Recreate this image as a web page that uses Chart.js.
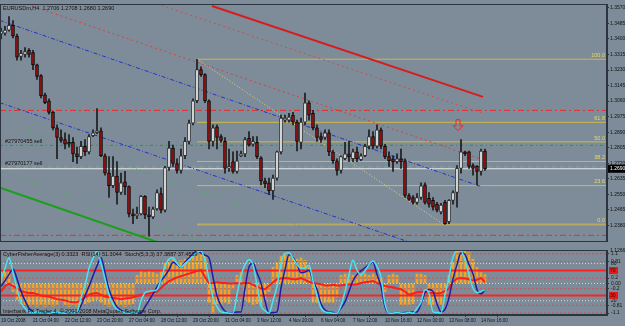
<!DOCTYPE html>
<html>
<head>
<meta charset="utf-8">
<script src="https://cdn.jsdelivr.net/npm/chart.js@4"></script>
<style>
html,body{margin:0;padding:0;background:#7d8c98;}
#wrap{position:relative;width:625px;height:326px;overflow:hidden;background:#7d8c98;}
#main{position:absolute;left:0;top:0;}
#ind{position:absolute;left:0;top:245px;}
</style>
</head>
<body>
<div id="wrap">
<canvas id="main" width="625" height="245"></canvas>
<canvas id="ind" width="625" height="81"></canvas>
</div>
<script>
// EURUSDm H4 candles, one entry per bar
var opens = [1.3427,1.3432,1.3448,1.3474,1.3416,1.3305,1.3315,1.3337,1.3326,1.3258,
  1.3200,1.3094,1.3062,1.2998,1.2914,1.2861,1.2850,1.2834,1.2834,1.2771,
  1.2756,1.2813,1.2782,1.2871,1.2887,1.2898,1.2761,1.2666,1.2597,1.2650,
  1.2560,1.2618,1.2592,1.2443,1.2432,1.2443,1.2539,1.2438,1.2427,1.2470,
  1.2554,1.2464,1.2697,1.2803,1.2719,1.2681,1.2761,1.2840,1.2940,1.3062,
  1.3232,1.3205,1.3062,1.2840,1.2919,1.2866,1.2840,1.2692,1.2729,1.2676,
  1.2761,1.2771,1.2856,1.2824,1.2834,1.2750,1.2623,1.2613,1.2570,1.2639,
  1.2782,1.2956,1.2956,1.2983,1.2945,1.2834,1.2945,1.3051,1.2993,1.2914,
  1.2866,1.2861,1.2887,1.2782,1.2734,1.2681,1.2745,1.2771,1.2745,1.2782,
  1.2740,1.2761,1.2813,1.2866,1.2813,1.2903,1.2813,1.2756,1.2745,1.2729,
  1.2745,1.2734,1.2544,1.2533,1.2506,1.2533,1.2602,1.2528,1.2517,1.2497,
  1.2454,1.2506,1.2401,1.2517,1.2560,1.2692,1.2782,1.2782,1.2708,1.2703,
  1.2676,1.2787];
var highs = [1.3459,1.3469,1.3522,1.3501,1.3427,1.3337,1.3353,1.3347,1.3337,1.3263,
  1.3205,1.3104,1.3072,1.3004,1.2930,1.2903,1.2887,1.2877,1.2861,1.2808,
  1.2840,1.2850,1.2877,1.2903,1.3019,1.2914,1.2771,1.2756,1.2756,1.2729,
  1.2666,1.2676,1.2597,1.2470,1.2480,1.2544,1.2544,1.2480,1.2480,1.2575,
  1.2586,1.2703,1.2840,1.2819,1.2745,1.2798,1.2861,1.2956,1.3072,1.3289,
  1.3248,1.3211,1.3067,1.2930,1.2930,1.2877,1.2861,1.2798,1.2782,1.2787,
  1.2787,1.2861,1.2893,1.2866,1.2866,1.2756,1.2639,1.2639,1.2655,1.2787,
  1.2983,1.2983,1.2993,1.2998,1.2956,1.2967,1.3104,1.3062,1.3009,1.2930,
  1.2887,1.2903,1.2903,1.2792,1.2745,1.2761,1.2834,1.2840,1.2798,1.2808,
  1.2771,1.2824,1.2903,1.2893,1.2930,1.2914,1.2824,1.2782,1.2761,1.2771,
  1.2798,1.2745,1.2554,1.2544,1.2554,1.2613,1.2613,1.2560,1.2533,1.2506,
  1.2501,1.2517,1.2522,1.2570,1.2708,1.2850,1.2787,1.2787,1.2719,1.2708,
  1.2798,1.2798];
var lows = [1.3400,1.3421,1.3443,1.3406,1.3284,1.3284,1.3300,1.3300,1.3232,1.3179,
  1.3078,1.3046,1.2988,1.2903,1.2745,1.2834,1.2798,1.2808,1.2729,1.2719,
  1.2745,1.2761,1.2771,1.2866,1.2882,1.2756,1.2655,1.2533,1.2586,1.2497,
  1.2550,1.2549,1.2427,1.2390,1.2417,1.2438,1.2417,1.2321,1.2417,1.2464,
  1.2449,1.2454,1.2681,1.2703,1.2666,1.2666,1.2745,1.2824,1.2930,1.3051,
  1.3195,1.3051,1.2798,1.2813,1.2798,1.2834,1.2666,1.2676,1.2666,1.2666,
  1.2756,1.2756,1.2813,1.2813,1.2745,1.2602,1.2586,1.2549,1.2522,1.2628,
  1.2771,1.2945,1.2945,1.2930,1.2787,1.2798,1.2930,1.2956,1.2903,1.2840,
  1.2834,1.2850,1.2761,1.2719,1.2655,1.2666,1.2740,1.2729,1.2729,1.2729,
  1.2734,1.2756,1.2798,1.2798,1.2803,1.2798,1.2745,1.2703,1.2676,1.2719,
  1.2692,1.2533,1.2517,1.2497,1.2497,1.2522,1.2497,1.2480,1.2464,1.2454,
  1.2443,1.2385,1.2390,1.2497,1.2480,1.2666,1.2761,1.2692,1.2655,1.2602,
  1.2655,1.2681];
var closes = [1.3443,1.3448,1.3474,1.3416,1.3300,1.3321,1.3331,1.3315,1.3258,1.3195,
  1.3089,1.3051,1.2998,1.2914,1.2861,1.2845,1.2824,1.2824,1.2771,1.2756,
  1.2813,1.2782,1.2866,1.2887,1.2898,1.2761,1.2666,1.2597,1.2650,1.2560,
  1.2613,1.2592,1.2443,1.2432,1.2443,1.2539,1.2438,1.2427,1.2470,1.2560,
  1.2464,1.2697,1.2803,1.2719,1.2681,1.2761,1.2840,1.2940,1.3062,1.3232,
  1.3205,1.3062,1.2840,1.2914,1.2861,1.2845,1.2692,1.2703,1.2676,1.2734,
  1.2771,1.2850,1.2819,1.2840,1.2756,1.2623,1.2607,1.2570,1.2639,1.2782,
  1.2967,1.2967,1.2972,1.2945,1.2840,1.2945,1.3051,1.2983,1.2914,1.2861,
  1.2850,1.2887,1.2782,1.2734,1.2681,1.2756,1.2771,1.2756,1.2782,1.2745,
  1.2761,1.2813,1.2866,1.2813,1.2903,1.2813,1.2756,1.2734,1.2729,1.2745,
  1.2729,1.2544,1.2522,1.2506,1.2533,1.2597,1.2506,1.2497,1.2480,1.2464,
  1.2491,1.2390,1.2517,1.2560,1.2692,1.2782,1.2771,1.2703,1.2692,1.2676,
  1.2787,1.2690];

// indicator window
var stochMain = [54,72,89,65,40,17,8,2,1,2,1,2,0,1,2,1,0,2,1,2,
  25,45,72,88,100,80,55,30,14,6,3,1,0,1,0,20,33,35,36,38,
  55,75,87,89,80,74,80,85,92,98,100,84,55,25,10,2,1,0,0,30,
  60,78,86,78,45,12,4,0,20,43,80,96,97,88,78,72,72,77,52,28,
  8,2,1,0,0,12,35,62,85,69,62,68,78,84,75,58,15,0,0,1,
  0,0,1,0,8,17,38,32,2,1,0,30,58,90,100,100,85,62,40,33,
  35,37.39];
var stochSignal = [43,52,62,71,55,35,20,8,2,1,2,1,1,0,1,2,1,1,2,2,
  12,28,43,60,76,89,65,38,22,10,5,2,1,0,0,0,10,20,31,42,
  52,60,70,82,78,74,82,89,95,100,97,93,89,58,28,12,3,0,1,2,
  2,40,74,80,65,48,20,0,1,2,40,70,94,90,78,65,66,69,52,38,
  15,5,2,1,0,8,18,35,52,62,68,73,78,82,62,43,10,0,0,1,
  0,1,1,2,2,15,33,38,35,15,2,6,25,55,78,97,94,78,63,38,
  31,37.46];
var rsi = [36,45,49,45,41,37,35,34,34,32,30,29,28,26,24,23,22,20,19,19,
  23,27,31,33,34,31,28,27,26,25,24,25,26,27,29,31,32,33,35,36,
  42,48,53,56,59,61,63,65,67,69,71,60,50,50,51,50,50,49,49,50,
  49,50,50,47,44,41,40,45,51,56,57,58,57,56,56,58,55,52,50,49,
  48,46,46,47,46,46,47,48,47,48,50,51,52,53,50,47,45,44,43,41,
  40,36,31,33,35,36,35,34,34,33,34,37,41,52,57,58,57,56,54,55,
  58,51.3];
var fisher = [0.5,0.5,0.45,-0.3,-0.6,-0.75,-0.8,-0.85,-0.8,-0.85,
  -0.8,-0.85,-0.8,-0.85,-0.8,-0.65,-0.8,-0.85,-0.8,-0.85,
  -0.8,-0.75,-0.7,-0.65,-0.6,-0.7,-0.8,-0.85,-0.8,-0.85,
  -0.8,-0.85,-0.8,-0.75,0.3,0.45,0.4,0.45,0.4,0.35,
  0.5,0.75,0.85,0.9,0.8,0.85,0.9,1.0,1.05,1.1,
  1.1,1.05,-0.7,-1.15,-0.75,-0.8,-0.7,-0.75,-0.2,0.3,
  0.4,-0.6,-0.7,-0.8,-0.75,-0.8,-0.6,-0.3,0.6,0.8,
  1.0,1.1,1.05,1.0,0.9,0.95,0.85,0.6,-0.7,-0.7,
  -0.75,-0.7,-0.7,-0.7,-0.5,0.3,0.35,0.35,0.3,0.35,
  0.3,0.35,0.3,0.35,0.3,0.2,-0.3,0.3,0.35,0.3,
  -0.8,-0.8,-0.8,-0.75,0.35,0.35,0.3,-0.8,-0.8,-0.75,
  -0.8,-0.5,0.3,0.8,1.2,1.2,1.2,1.15,0.9,0.6,
  0.4,0.33];

// axes
var priceTicks = [1.3570,1.3485,1.3400,1.3315,1.3230,1.3145,1.3060,1.2975,1.2890,1.2805,1.2720,1.2635,1.2550,1.2465,1.2380];
var timeTickBars = [0,8,16,24,32,40,48,56,64,72,80,88,96,104,112,120];
var timeTickLabels = ["19 Oct 2008","21 Oct 04:00","22 Oct 12:00","23 Oct 20:00","27 Oct 04:00","28 Oct 12:00",
  "29 Oct 20:00","31 Oct 04:00","3 Nov 12:00","4 Nov 20:00","6 Nov 04:00","7 Nov 12:00",
  "10 Nov 16:00","12 Nov 00:00","13 Nov 08:00","14 Nov 16:00"];
var fisherTicks = [1.1,0.81,0.2,0,-0.2,-0.81,-1.1];
var fisherTickLabels = ["1.1","0.81","0.2","0.00","-0.2","-0.81","-1.1"];

// objects on the chart (bar index, price)
var fibPrices = [1.3289,1.2944,1.2837,1.2730,1.2598,1.2385];
var fibNames = ["100.0","61.8","50.0","38.2","23.6","0.0"];
var fibStart = 49;
var fibTrend = [[49,1.3289],[110.75,1.2385]];
var redLevels = [1.3009,1.2326];
var orderPrices = [1.2818,1.2700];
var orderNames = ["#27970455 sell","#27970177 sell"];
var bid = 1.2690;
var trendRed = [[52.75,1.3580],[120.5,1.3083]];
var trendRedDotA = [[7.75,1.3580],[119.75,1.2745]];
var trendRedDotB = [[39,1.3591],[120.5,1.2993]];
var trendBlueUp = [[-0.25,1.3501],[120.25,1.2591]];
var trendBlueLow = [[-0.25,1.3051],[120.5,1.2152]];
var trendGreen = [[-0.25,1.2586],[40,1.2282]];
var trendGreenDotA = [[-0.25,1.2946],[100,1.2189]];
var trendGreenDotB = [[-0.25,1.2681],[50,1.2295]];
var arrowBar = 114.25, arrowPrice = 1.2898;

var xMin = -0.25, xMax = 151.5;
var small = "5.5px 'Liberation Sans', Arial, sans-serif";
var tiny = { size: 5, family: "'Liberation Sans', Arial" };

function seg(pts, color, width, dash, axis){
  var d = {type:'line', data: pts.map(function(p){return {x:p[0], y:p[1]};}),
    borderColor: color, borderWidth: width, borderDash: dash || [], pointRadius: 0,
    fill: false, tension: 0, order: 5};
  if (axis) d.yAxisID = axis;
  return d;
}
function hline(v, color, width, dash, from, axis){
  return seg([[from, v],[xMax, v]], color, width, dash, axis);
}

var bars = opens.map(function(o, i){ return i; });
var bodyFill = bars.map(function(i){ return closes[i] >= opens[i] ? '#f4f4f4' : '#a01010'; });
var bodyLine = bars.map(function(i){ return closes[i] >= opens[i] ? '#303030' : '#080808'; });

var mainSets = [
  {type:'bar', data: bars.map(function(i){ return {x:i, y:[opens[i], closes[i]]}; }),
    backgroundColor: bodyFill, borderColor: bodyLine, borderWidth: 1, borderSkipped: false,
    barThickness: 3, minBarLength: 1, grouped: false, order: 0},
  {type:'bar', data: bars.map(function(i){ return {x:i, y:[lows[i], highs[i]]}; }),
    backgroundColor: '#1c1c1c', barThickness: 1, grouped: false, order: 1},
  seg(trendRed, '#d81c1c', 2),
  seg(trendRedDotA, '#d84040', 1, [2,3]),
  seg(trendRedDotB, '#c85050', 1, [2,3]),
  seg(trendBlueUp, '#2430d0', 1, [4,2,1,2]),
  seg(trendBlueLow, '#2430d0', 1, [4,2,1,2]),
  seg(trendGreen, '#18a018', 2),
  seg(trendGreenDotA, '#40b050', 1, [1,3]),
  seg(trendGreenDotB, '#40b050', 1, [1,3]),
  seg(fibTrend, '#e0d878', 1, [1,2]),
  hline(redLevels[0], '#e03030', 1, [6,3,2,3], xMin),
  hline(redLevels[1], '#e03030', 1, [6,3,2,3], xMin),
  hline(orderPrices[0], '#10a040', 1, [3,3,1,3], xMin),
  hline(orderPrices[1], '#80a8a8', 1, [4,4], xMin),
  hline(bid, '#e8e8e8', 1, [], xMin)
];
fibPrices.forEach(function(p, k){
  mainSets.push(hline(p, k === 5 ? '#b8a860' : '#d0b848', k === 5 ? 2 : 1, [], fibStart));
});

var mainOverlay = {
  id: 'mainOverlay',
  afterDatasetsDraw: function(chart){
    var c = chart.ctx, a = chart.chartArea, y = chart.scales.y, x = chart.scales.x;
    c.save();
    c.font = small;
    c.textBaseline = 'bottom';
    c.textAlign = 'right';
    c.fillStyle = '#e8d870';
    fibPrices.forEach(function(p, k){ c.fillText(fibNames[k], a.right - 2, y.getPixelForValue(p) - 1); });
    c.textAlign = 'left';
    c.fillStyle = '#141414';
    orderPrices.forEach(function(p, k){ c.fillText(orderNames[k], a.left + 5, y.getPixelForValue(p) - 1); });
    c.textBaseline = 'top';
    c.fillText("EURUSDm,H4  1.2706 1.2708 1.2680 1.2690", a.left + 3, a.top + 2);
    // sell arrow
    var ax = x.getPixelForValue(arrowBar), ay = y.getPixelForValue(arrowPrice);
    c.strokeStyle = '#ff2020'; c.lineWidth = 1;
    c.beginPath();
    c.moveTo(ax, ay); c.lineTo(ax - 5, ay - 5); c.lineTo(ax - 2, ay - 5); c.lineTo(ax - 2, ay - 11);
    c.lineTo(ax + 2, ay - 11); c.lineTo(ax + 2, ay - 5); c.lineTo(ax + 5, ay - 5); c.closePath();
    c.stroke();
    // frame
    c.strokeStyle = '#2c3440';
    c.strokeRect(a.left + 0.5, a.top + 0.5, a.right - a.left - 1, a.bottom - a.top);
    // bid box on axis
    var by = y.getPixelForValue(bid);
    c.fillStyle = '#000';
    c.fillRect(a.right + 1, by - 4, chart.width - a.right - 1, 8);
    c.fillStyle = '#fff';
    c.textBaseline = 'middle';
    c.font = "5px 'Liberation Sans', Arial";
    c.fillText(bid.toFixed(4), a.right + 3, by);
    c.restore();
  }
};

new Chart(document.getElementById('main'), {
  type: 'bar',
  data: { datasets: mainSets },
  options: {
    responsive: false, animation: false, events: [], devicePixelRatio: 1,
    layout: { padding: 0 },
    plugins: { legend: { display: false }, tooltip: { enabled: false } },
    scales: {
      x: { type: 'linear', min: xMin, max: xMax, offset: false, display: false },
      y: { type: 'linear', position: 'right', min: 1.2295, max: 1.3591,
        afterBuildTicks: function(s){ s.ticks = priceTicks.map(function(v){ return {value: v}; }); },
        afterFit: function(s){ s.width = 18; },
        border: { color: '#2c3440' },
        grid: { drawOnChartArea: false, tickLength: 2, color: '#2c3440' },
        ticks: { font: tiny, color: '#141414', padding: 1,
          callback: function(v){ return v.toFixed(4); } } }
    }
  },
  plugins: [mainOverlay]
});

// indicator window
var indSets = [
  {type:'bar', data: fisher.map(function(v, i){ return {x:i, y:v}; }), yAxisID: 'yF',
    backgroundColor: '#f0a428', barThickness: 2, grouped: false, order: 10},
  hline(70, '#ff2020', 2, [], xMin, 'yR'),
  hline(30, '#ff2020', 2, [], xMin, 'yR'),
  hline(80, '#d8d8d8', 1, [1,2], xMin, 'yS'),
  hline(20, '#d8d8d8', 1, [1,2], xMin, 'yS'),
  hline(0, '#d8d8d8', 1, [1,2], xMin, 'yF'),
  {type:'line', data: rsi.map(function(v, i){ return {x:i, y:v}; }), yAxisID: 'yR',
    borderColor: '#ff1c1c', borderWidth: 2, pointRadius: 0, tension: 0, order: 2},
  {type:'line', data: stochSignal.map(function(v, i){ return {x:i, y:v}; }), yAxisID: 'yS',
    borderColor: '#1c1ca8', borderWidth: 1.5, pointRadius: 0, cubicInterpolationMode: 'monotone', order: 1},
  {type:'line', data: stochMain.map(function(v, i){ return {x:i, y:v}; }), yAxisID: 'yS',
    borderColor: '#48e4f0', borderWidth: 1.5, pointRadius: 0, cubicInterpolationMode: 'monotone', order: 0}
];
[1.1,0.81,0.2,-0.2,-0.81,-1.1].forEach(function(v){
  var d = hline(v, '#e04848', 1, [2,2], xMin, 'yF'); d.order = 8; indSets.push(d);
});

var indOverlay = {
  id: 'indOverlay',
  afterDatasetsDraw: function(chart){
    var c = chart.ctx, a = chart.chartArea, s = chart.scales;
    c.save();
    c.font = small;
    c.fillStyle = '#141414';
    c.textAlign = 'left';
    c.textBaseline = 'top';
    c.fillText("CyberFisherAverage(3) 0.3323  RSI(14) 51.3044  Stoch(5,3,3) 37.3887 37.4569", a.left + 3, a.top + 2);
    c.textBaseline = 'bottom';
    c.fillText("Interbank FX Trader 4, \u00a9 2001-2008 MetaQuotes Software Corp.", a.left + 3, a.bottom - 1);
    c.strokeStyle = '#2c3440';
    c.strokeRect(a.left + 0.5, a.top + 0.5, a.right - a.left - 1, a.bottom - a.top - 1);
    // extra labels on the right axis
    c.font = "5px 'Liberation Sans', Arial";
    c.textBaseline = 'middle';
    c.fillText("1.1266", a.right + 3, a.top + 1);
    [80, 20].forEach(function(v){ c.fillText(String(v), a.right + 4, s.yS.getPixelForValue(v)); });
    [70, 30].forEach(function(v){
      var py = s.yR.getPixelForValue(v);
      c.fillStyle = '#e81818'; c.fillRect(a.right + 2, py - 3.5, 9, 7);
      c.fillStyle = '#141414'; c.fillText(String(v), a.right + 3, py);
    });
    c.restore();
  }
};

new Chart(document.getElementById('ind'), {
  type: 'bar',
  data: { datasets: indSets },
  options: {
    responsive: false, animation: false, events: [], devicePixelRatio: 1,
    layout: { padding: { top: 2, left: 0, right: 0, bottom: 0 } },
    plugins: { legend: { display: false }, tooltip: { enabled: false } },
    scales: {
      x: { type: 'linear', min: xMin, max: xMax, offset: false,
        afterBuildTicks: function(s){ s.ticks = timeTickBars.map(function(v){ return {value: v}; }); },
        afterFit: function(s){ s.height = 11; },
        border: { color: '#2c3440' },
        grid: { drawOnChartArea: false, tickLength: 2, color: '#2c3440' },
        ticks: { autoSkip: false, maxRotation: 0, minRotation: 0, align: 'start', padding: 1,
          font: { size: 4.5, family: "'Liberation Sans', Arial" }, color: '#141414',
          callback: function(v){ var k = timeTickBars.indexOf(v); return k < 0 ? '' : timeTickLabels[k]; } } },
      yF: { type: 'linear', position: 'right', min: -1.17, max: 1.241,
        afterBuildTicks: function(s){ s.ticks = fisherTicks.map(function(v){ return {value: v}; }); },
        afterFit: function(s){ s.width = 18; },
        border: { color: '#2c3440' },
        grid: { drawOnChartArea: false, tickLength: 2, color: '#2c3440' },
        ticks: { font: tiny, color: '#141414', padding: 2,
          callback: function(v){ var k = fisherTicks.indexOf(v); return k < 0 ? '' : fisherTickLabels[k]; } } },
      yS: { type: 'linear', display: false, min: -3, max: 101.5 },
      yR: { type: 'linear', display: false, min: -1.5, max: 103 }
    }
  },
  plugins: [indOverlay]
});
</script>
</body>
</html>
